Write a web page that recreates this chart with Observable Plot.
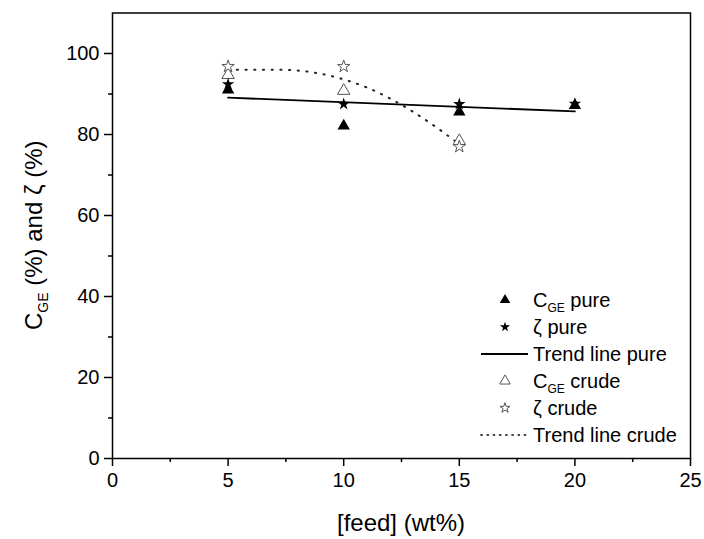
<!DOCTYPE html>
<html><head><meta charset="utf-8">
<script src="https://cdn.jsdelivr.net/npm/d3@7"></script>
<script src="https://cdn.jsdelivr.net/npm/@observablehq/plot@0.6"></script>
<style>body{margin:0;background:#fff}svg{font-family:"Liberation Sans",Arial,sans-serif}</style>
</head><body><div id="chart"></div>
<script>
const feed = [5, 10, 15, 20];
const cgePure = [91.0, 82.1, 85.6, 87.2];
const zetaPure = [92.4, 87.5, 87.5, 87.6];
const cgeCrude = [94.7, 90.8, 78.4];
const zetaCrude = [96.8, 96.8, 77.0];
const trendPureX = [5, 20];
const trendPureY = [89.1, 85.7];
const trendCrudeX = [5, 6, 7, 8, 9, 10, 11, 12, 13, 14, 15];
const trendCrudeY = [96.0, 96.0, 96.0, 95.8, 95.0, 93.6, 91.6, 88.9, 85.6, 81.8, 77.6];
const xTicks = [0, 5, 10, 15, 20, 25];
const xMinor = [2.5, 7.5, 12.5, 17.5, 22.5];
const yTicks = [0, 20, 40, 60, 80, 100];
const yMinor = [10, 30, 50, 70, 90];

const pts = (xs, ys) => xs.map((x, i) => ({x, y: ys[i]}));
const crudeFeed = feed.slice(0, 3);

const W = 704, H = 539;
const M = {left: 112, right: 14, top: 12.5, bottom: 81};

const plot = Plot.plot({
  width: W, height: H,
  marginLeft: M.left, marginRight: M.right, marginTop: M.top, marginBottom: M.bottom,
  style: {fontFamily: '"Liberation Sans", Arial, sans-serif', background: "#fff", color: "#000"},
  x: {domain: [0, 25]},
  y: {domain: [0, 110]},
  marks: [
    Plot.frame({stroke: "#000", strokeWidth: 1.5}),
    Plot.axisX({ticks: xTicks, tickSize: 8, tickPadding: 6, fontSize: 20, label: null, strokeWidth: 1.5}),
    Plot.axisX({ticks: xMinor, tickSize: 4, tickFormat: () => "", label: null, strokeWidth: 1.5}),
    Plot.axisY({ticks: yTicks, tickSize: 8, tickPadding: 5, fontSize: 20, label: null, strokeWidth: 1.5}),
    Plot.axisY({ticks: yMinor, tickSize: 4, tickFormat: () => "", label: null, strokeWidth: 1.5}),
    Plot.line(pts(trendPureX, trendPureY), {x: "x", y: "y", stroke: "#000", strokeWidth: 1.8}),
    Plot.line(pts(trendCrudeX, trendCrudeY), {x: "x", y: "y", stroke: "#222", strokeWidth: 2, strokeDasharray: "1.2 7.5", strokeLinecap: "round", curve: "natural"}),
    Plot.dot(pts(crudeFeed, cgeCrude), {x: "x", y: "y", symbol: "triangle", r: 4.6, fill: "#fff", stroke: "#555", strokeWidth: 1}),
    Plot.dot(pts(crudeFeed, zetaCrude), {x: "x", y: "y", symbol: "star", r: 3.9, fill: "#fff", stroke: "#555", strokeWidth: 1}),
    Plot.dot(pts(feed, cgePure), {x: "x", y: "y", symbol: "triangle", r: 4.6, fill: "#000", stroke: "none"}),
    Plot.dot(pts(feed, zetaPure), {x: "x", y: "y", symbol: "star", r: 3.9, fill: "#000", stroke: "none"})
  ]
});
document.getElementById("chart").appendChild(plot);

const svg = d3.select(plot);
// axis titles
svg.append("text").attr("x", (M.left + W - M.right) / 2).attr("y", 531)
  .attr("text-anchor", "middle").attr("font-size", 24).text("[feed] (wt%)");
const yl = svg.append("text").attr("transform", `translate(42,${(M.top + H - M.bottom) / 2}) rotate(-90)`)
  .attr("text-anchor", "middle").attr("font-size", 24);
yl.append("tspan").text("C");
yl.append("tspan").attr("font-size", 14).attr("dy", 6).text("GE");
yl.append("tspan").attr("dy", -6).text(" (%) and ζ (%)");

// legend
const legend = [
  {name: ["C", "GE", " pure"], type: "tri", fill: "#000"},
  {name: ["ζ pure"], type: "star", fill: "#000"},
  {name: ["Trend line pure"], type: "line"},
  {name: ["C", "GE", " crude"], type: "tri", fill: "#fff"},
  {name: ["ζ crude"], type: "star", fill: "#fff"},
  {name: ["Trend line crude"], type: "dots"}
];
const lg = svg.append("g").attr("text-anchor", "start");
legend.forEach((d, i) => {
  const cy = 300 + i * 27;
  if (d.type === "tri" || d.type === "star") {
    const sym = d.type === "tri" ? d3.symbolTriangle : d3.symbolStar;
    const size = d.type === "tri" ? 48 : 32;
    lg.append("path").attr("transform", `translate(505,${cy})`)
      .attr("d", d3.symbol(sym, size)())
      .attr("fill", d.fill).attr("stroke", d.fill === "#000" ? "none" : "#555").attr("stroke-width", 1);
  } else {
    lg.append("line").attr("x1", 481).attr("x2", 528).attr("y1", cy).attr("y2", cy)
      .attr("stroke", "#000").attr("stroke-width", d.type === "line" ? 1.8 : 1.6)
      .attr("stroke-dasharray", d.type === "line" ? null : "1.2 5")
      .attr("stroke-linecap", d.type === "line" ? null : "round");
  }
  const t = lg.append("text").attr("x", 533).attr("y", cy + 7).attr("font-size", 20).attr("text-anchor", "start");
  if (d.name.length === 1) t.text(d.name[0]);
  else {
    t.append("tspan").text(d.name[0]);
    t.append("tspan").attr("font-size", 12).attr("dy", 5).text(d.name[1]);
    t.append("tspan").attr("dy", -5).text(d.name[2]);
  }
});
</script></body></html>
